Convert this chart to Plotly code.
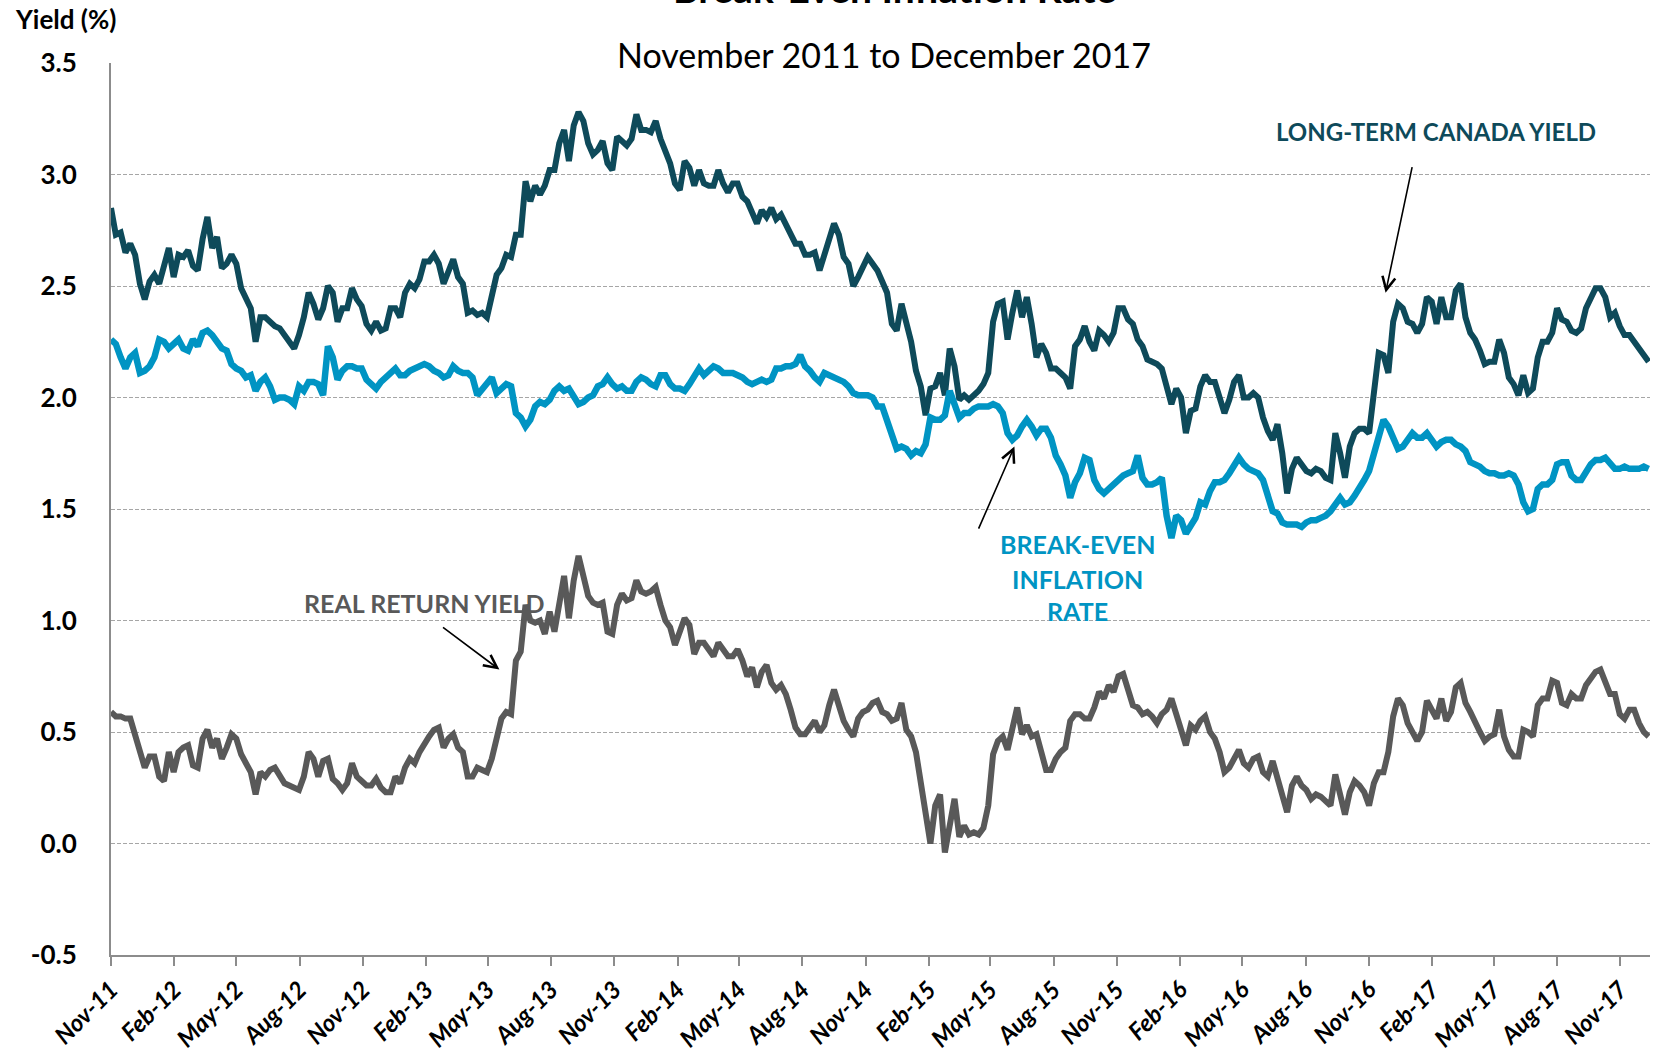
import pandas as pd
import plotly.graph_objects as go

# Weekly observations starting 1 Nov 2011 (yields in %)
start_date = "2011-11-01"

long_term_canada = [
    2.85, 2.73, 2.74, 2.65, 2.69, 2.64, 2.51, 2.44, 2.52, 2.55,
    2.51, 2.59, 2.67, 2.54, 2.64, 2.63, 2.66, 2.59, 2.57, 2.71,
    2.81, 2.67, 2.72, 2.58, 2.60, 2.64, 2.60, 2.49, 2.44, 2.40,
    2.25, 2.36, 2.36, 2.34, 2.32, 2.31, 2.28, 2.26, 2.22, 2.28,
    2.36, 2.47, 2.42, 2.35, 2.40, 2.50, 2.47, 2.34, 2.40, 2.40,
    2.49, 2.44, 2.41, 2.33, 2.30, 2.34, 2.30, 2.31, 2.40, 2.40,
    2.36, 2.47, 2.51, 2.49, 2.53, 2.61, 2.61, 2.64, 2.60, 2.51,
    2.57, 2.62, 2.54, 2.51, 2.38, 2.39, 2.37, 2.38, 2.36, 2.45,
    2.55, 2.58, 2.64, 2.63, 2.73, 2.73, 2.97, 2.88, 2.95, 2.91,
    2.95, 3.02, 3.02, 3.14, 3.20, 3.06, 3.22, 3.28, 3.24, 3.14,
    3.09, 3.11, 3.15, 3.05, 3.02, 3.17, 3.15, 3.13, 3.16, 3.27,
    3.20, 3.20, 3.19, 3.24, 3.16, 3.10, 3.05, 2.96, 2.93, 3.06,
    3.03, 2.95, 3.02, 2.96, 2.95, 2.95, 3.02, 2.96, 2.92, 2.96,
    2.96, 2.90, 2.88, 2.83, 2.78, 2.84, 2.81, 2.85, 2.80, 2.82,
    2.78, 2.73, 2.69, 2.69, 2.64, 2.64, 2.65, 2.57, 2.64, 2.71,
    2.78, 2.73, 2.63, 2.60, 2.50, 2.54, 2.58, 2.63, 2.60, 2.57,
    2.52, 2.47, 2.33, 2.30, 2.42, 2.33, 2.25, 2.12, 2.05, 1.92,
    2.04, 2.05, 2.11, 2.01, 2.22, 2.14, 1.99, 2.01, 1.99, 2.01,
    2.03, 2.06, 2.11, 2.34, 2.42, 2.43, 2.26, 2.38, 2.48, 2.36,
    2.45, 2.33, 2.18, 2.24, 2.20, 2.13, 2.13, 2.11, 2.09, 2.04,
    2.23, 2.26, 2.32, 2.25, 2.21, 2.30, 2.28, 2.25, 2.29, 2.40,
    2.40, 2.35, 2.33, 2.26, 2.23, 2.17, 2.16, 2.15, 2.13, 2.05,
    1.97, 2.04, 2.00, 1.84, 1.94, 1.95, 2.05, 2.10, 2.07, 2.07,
    1.99, 1.93, 1.99, 2.07, 2.10, 2.00, 2.00, 2.02, 2.00, 1.91,
    1.85, 1.81, 1.88, 1.75, 1.57, 1.68, 1.73, 1.70, 1.67, 1.66,
    1.68, 1.67, 1.64, 1.63, 1.84, 1.75, 1.64, 1.78, 1.84, 1.86,
    1.86, 1.84, 2.02, 2.20, 2.19, 2.11, 2.34, 2.42, 2.40, 2.34,
    2.33, 2.29, 2.33, 2.45, 2.43, 2.33, 2.45, 2.36, 2.36, 2.48,
    2.51, 2.36, 2.29, 2.26, 2.21, 2.15, 2.16, 2.16, 2.26, 2.20,
    2.09, 2.06, 2.01, 2.10, 2.02, 2.04, 2.18, 2.25, 2.25, 2.29,
    2.40, 2.35, 2.34, 2.30, 2.29, 2.31, 2.40, 2.45, 2.49, 2.49,
    2.45, 2.36, 2.38, 2.32, 2.28, 2.28, 2.25, 2.23, 2.19, 2.16,
]

break_even = [
    2.26, 2.24, 2.18, 2.13, 2.18, 2.20, 2.11, 2.12, 2.14, 2.18,
    2.26, 2.25, 2.22, 2.24, 2.26, 2.22, 2.21, 2.26, 2.23, 2.29,
    2.30, 2.28, 2.25, 2.22, 2.21, 2.15, 2.13, 2.12, 2.09, 2.10,
    2.03, 2.07, 2.09, 2.05, 1.99, 2.00, 2.00, 1.99, 1.97, 2.05,
    2.03, 2.07, 2.07, 2.06, 2.01, 2.23, 2.18, 2.08, 2.12, 2.14,
    2.14, 2.13, 2.13, 2.08, 2.06, 2.04, 2.07, 2.09, 2.11, 2.13,
    2.10, 2.10, 2.12, 2.13, 2.14, 2.15, 2.14, 2.12, 2.11, 2.09,
    2.10, 2.14, 2.12, 2.11, 2.11, 2.09, 2.01, 2.04, 2.07, 2.09,
    2.02, 2.04, 2.06, 2.05, 1.93, 1.91, 1.87, 1.90, 1.96, 1.98,
    1.97, 1.99, 2.03, 2.05, 2.03, 2.04, 2.00, 1.97, 1.98, 2.00,
    2.01, 2.05, 2.06, 2.09, 2.06, 2.04, 2.05, 2.03, 2.03, 2.07,
    2.09, 2.08, 2.06, 2.05, 2.10, 2.10, 2.06, 2.04, 2.04, 2.03,
    2.06, 2.09, 2.13, 2.10, 2.12, 2.14, 2.13, 2.11, 2.11, 2.11,
    2.10, 2.09, 2.07, 2.06, 2.07, 2.08, 2.07, 2.08, 2.13, 2.13,
    2.14, 2.14, 2.15, 2.19, 2.14, 2.12, 2.09, 2.07, 2.11, 2.10,
    2.09, 2.08, 2.07, 2.05, 2.02, 2.01, 2.01, 2.01, 2.00, 1.96,
    1.96, 1.90, 1.83, 1.77, 1.78, 1.77, 1.74, 1.76, 1.75, 1.79,
    1.91, 1.90, 1.90, 1.92, 2.03, 1.96, 1.91, 1.93, 1.93, 1.95,
    1.96, 1.96, 1.96, 1.97, 1.96, 1.93, 1.84, 1.81, 1.83, 1.87,
    1.90, 1.87, 1.83, 1.86, 1.86, 1.82, 1.74, 1.70, 1.65, 1.55,
    1.62, 1.66, 1.73, 1.72, 1.63, 1.59, 1.57, 1.59, 1.61, 1.63,
    1.65, 1.66, 1.67, 1.74, 1.64, 1.61, 1.61, 1.62, 1.64, 1.47,
    1.37, 1.47, 1.45, 1.39, 1.42, 1.46, 1.53, 1.52, 1.58, 1.62,
    1.62, 1.63, 1.66, 1.70, 1.73, 1.70, 1.68, 1.67, 1.66, 1.63,
    1.56, 1.49, 1.48, 1.44, 1.43, 1.43, 1.43, 1.42, 1.44, 1.45,
    1.45, 1.46, 1.47, 1.49, 1.52, 1.55, 1.52, 1.53, 1.56, 1.59,
    1.63, 1.67, 1.74, 1.83, 1.90, 1.87, 1.82, 1.77, 1.78, 1.81,
    1.84, 1.82, 1.82, 1.84, 1.81, 1.78, 1.80, 1.81, 1.81, 1.79,
    1.78, 1.76, 1.71, 1.70, 1.69, 1.67, 1.66, 1.66, 1.65, 1.65,
    1.66, 1.65, 1.61, 1.53, 1.49, 1.50, 1.59, 1.61, 1.61, 1.63,
    1.70, 1.71, 1.71, 1.65, 1.63, 1.63, 1.67, 1.70, 1.72, 1.72,
    1.73, 1.70, 1.68, 1.68, 1.69, 1.68, 1.68, 1.68, 1.69, 1.68,
]

real_return = [
    0.59, 0.57, 0.57, 0.56, 0.56, 0.48, 0.40, 0.34, 0.39, 0.39,
    0.30, 0.28, 0.41, 0.32, 0.41, 0.43, 0.44, 0.35, 0.34, 0.47,
    0.51, 0.43, 0.47, 0.38, 0.43, 0.49, 0.47, 0.40, 0.36, 0.32,
    0.22, 0.32, 0.30, 0.33, 0.34, 0.31, 0.27, 0.26, 0.25, 0.24,
    0.30, 0.41, 0.38, 0.30, 0.37, 0.38, 0.29, 0.27, 0.24, 0.27,
    0.36, 0.30, 0.28, 0.26, 0.26, 0.29, 0.25, 0.23, 0.23, 0.30,
    0.27, 0.34, 0.38, 0.36, 0.41, 0.45, 0.48, 0.51, 0.52, 0.43,
    0.47, 0.49, 0.43, 0.41, 0.30, 0.30, 0.34, 0.33, 0.32, 0.38,
    0.47, 0.56, 0.59, 0.58, 0.82, 0.86, 1.07, 1.00, 0.99, 1.00,
    0.94, 1.04, 0.95, 1.08, 1.20, 1.01, 1.18, 1.29, 1.20, 1.11,
    1.08, 1.07, 1.08, 0.95, 0.94, 1.07, 1.12, 1.09, 1.10, 1.18,
    1.13, 1.12, 1.13, 1.15, 1.07, 1.00, 0.97, 0.89, 0.95, 1.01,
    0.98, 0.85, 0.90, 0.90, 0.87, 0.84, 0.90, 0.87, 0.84, 0.84,
    0.87, 0.82, 0.75, 0.79, 0.70, 0.77, 0.80, 0.72, 0.69, 0.71,
    0.67, 0.60, 0.52, 0.49, 0.49, 0.52, 0.55, 0.50, 0.53, 0.62,
    0.69, 0.62, 0.55, 0.51, 0.48, 0.56, 0.59, 0.60, 0.63, 0.64,
    0.59, 0.58, 0.55, 0.56, 0.63, 0.51, 0.48, 0.41, 0.28, 0.14,
    0.00, 0.17, 0.22, -0.04, 0.10, 0.20, 0.03, 0.08, 0.04, 0.05,
    0.04, 0.07, 0.17, 0.40, 0.46, 0.48, 0.42, 0.51, 0.61, 0.49,
    0.53, 0.48, 0.49, 0.41, 0.33, 0.33, 0.38, 0.41, 0.43, 0.55,
    0.58, 0.58, 0.56, 0.56, 0.61, 0.68, 0.65, 0.71, 0.68, 0.75,
    0.76, 0.69, 0.62, 0.61, 0.58, 0.59, 0.57, 0.54, 0.58, 0.60,
    0.65, 0.58, 0.50, 0.44, 0.53, 0.51, 0.55, 0.57, 0.50, 0.47,
    0.41, 0.32, 0.34, 0.38, 0.42, 0.36, 0.34, 0.38, 0.39, 0.32,
    0.30, 0.37, 0.29, 0.22, 0.14, 0.26, 0.30, 0.26, 0.24, 0.20,
    0.22, 0.21, 0.19, 0.17, 0.31, 0.21, 0.13, 0.23, 0.28, 0.26,
    0.23, 0.17, 0.27, 0.32, 0.32, 0.41, 0.57, 0.65, 0.62, 0.54,
    0.50, 0.46, 0.50, 0.64, 0.60, 0.56, 0.65, 0.55, 0.59, 0.70,
    0.72, 0.63, 0.59, 0.54, 0.50, 0.46, 0.48, 0.49, 0.60, 0.48,
    0.42, 0.39, 0.39, 0.51, 0.50, 0.48, 0.62, 0.65, 0.65, 0.73,
    0.72, 0.63, 0.62, 0.67, 0.65, 0.65, 0.71, 0.74, 0.77, 0.78,
    0.72, 0.67, 0.67, 0.58, 0.56, 0.60, 0.60, 0.54, 0.50, 0.48,
]

# value-axis ticks
y_ticks = [-0.5, 0.0, 0.5, 1.0, 1.5, 2.0, 2.5, 3.0, 3.5]
y_tick_labels = [f"{v:.1f}" for v in y_ticks]

dates = pd.date_range(start_date, periods=len(long_term_canada), freq="7D")

LTC_COLOR = "#0e4a5a"
BE_COLOR = "#0094c3"
RR_COLOR = "#595959"
FONT = "Lato, Carlito, Calibri, sans-serif"

fig = go.Figure()
fig.add_trace(go.Scatter(x=dates, y=long_term_canada, mode="lines",
                         line=dict(color=LTC_COLOR, width=6), name="Long-term Canada yield"))
fig.add_trace(go.Scatter(x=dates, y=break_even, mode="lines",
                         line=dict(color=BE_COLOR, width=6.5), name="Break-even inflation rate"))
fig.add_trace(go.Scatter(x=dates, y=real_return, mode="lines",
                         line=dict(color=RR_COLOR, width=6), name="Real return yield"))


def paper_y(px):
    """Convert a pixel row of the page into a paper coordinate."""
    return (955 - px) / 892


annotations = [
    # chart title (partly above the page edge) and subtitle
    dict(text="<b>Break-Even Inflation Rate</b>", x=0.5088, y=paper_y(13), xref="paper", yref="paper",
         xanchor="center", yanchor="bottom", showarrow=False, font=dict(size=39, color="black")),
    dict(text="November 2011 to December 2017", x=0.502, y=paper_y(55), xref="paper", yref="paper",
         xanchor="center", yanchor="middle", showarrow=False, font=dict(size=34, color="black")),
    dict(text="<b>Yield (%)</b>", x=-0.064, y=paper_y(19), xref="paper", yref="paper",
         xanchor="left", yanchor="middle", showarrow=False, font=dict(size=26, color="black")),
    # series labels
    dict(text="<b>LONG-TERM CANADA YIELD</b>", x=0.861, y=paper_y(131), xref="paper", yref="paper",
         xanchor="center", yanchor="middle", showarrow=False, font=dict(size=24, color=LTC_COLOR)),
    dict(text="<b>REAL RETURN YIELD</b>", x=0.2034, y=paper_y(603), xref="paper", yref="paper",
         xanchor="center", yanchor="middle", showarrow=False, font=dict(size=25, color=RR_COLOR)),
    dict(text="<b>BREAK-EVEN</b>", x=0.6277, y=paper_y(544), xref="paper", yref="paper",
         xanchor="center", yanchor="middle", showarrow=False, font=dict(size=25, color=BE_COLOR)),
    dict(text="<b>INFLATION</b>", x=0.6277, y=paper_y(579), xref="paper", yref="paper",
         xanchor="center", yanchor="middle", showarrow=False, font=dict(size=25, color=BE_COLOR)),
    dict(text="<b>RATE</b>", x=0.6277, y=paper_y(611), xref="paper", yref="paper",
         xanchor="center", yanchor="middle", showarrow=False, font=dict(size=25, color=BE_COLOR)),
]

# pointer arrows from the labels to the lines (head at x/y, tail at ax/ay)
arrows = [
    ("2016-11-25", 2.47, "2017-01-03", 3.04),
    ("2015-06-05", 1.78, "2015-04-13", 1.405),
    ("2013-05-18", 0.78, "2013-02-23", 0.974),
]
for hx, hy, tx, ty in arrows:
    annotations.append(dict(x=hx, y=hy, ax=tx, ay=ty, xref="x", yref="y", axref="x", ayref="y",
                            text="", showarrow=True, arrowhead=5, arrowsize=1.6,
                            arrowwidth=1.6, arrowcolor="black"))

fig.update_layout(
    width=1653, height=1059,
    margin=dict(l=111, r=3, t=63, b=104, autoexpand=False),
    paper_bgcolor="white", plot_bgcolor="white",
    font=dict(family=FONT, color="black"),
    showlegend=False,
    annotations=annotations,
)

fig.update_xaxes(
    type="date", range=["2011-11-01", "2017-12-14"],
    tick0="2011-11-01", dtick="M3", tickformat="%b-%y", tickangle=-45,
    ticks="outside", ticklen=9, tickwidth=1.5, tickcolor="#8c8c8c",
    showline=True, linecolor="#8c8c8c", linewidth=2, showgrid=False, zeroline=False,
    ticklabelstandoff=0, automargin=False,
    tickfont=dict(size=24, weight="bold", style="italic", color="black"),
)
fig.update_yaxes(
    range=[-0.5, 3.5], tickmode="array", tickvals=y_ticks, ticktext=y_tick_labels,
    showgrid=True, gridcolor="#a6a6a6", gridwidth=1, griddash="4px,2px",
    zeroline=False, showline=True, linecolor="#8c8c8c", linewidth=2,
    ticks="", ticklabelstandoff=27, automargin=False,
    tickfont=dict(size=26, weight="bold", color="black"),
)

fig.write_html("out.html")
